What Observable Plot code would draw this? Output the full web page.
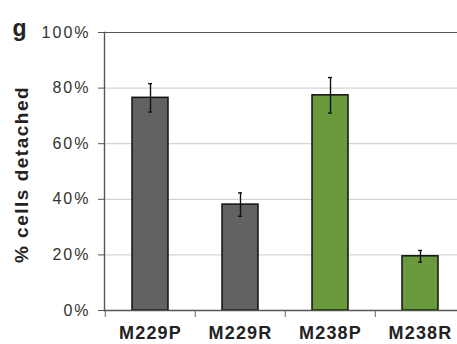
<!DOCTYPE html>
<html>
<head>
<meta charset="utf-8">
<script src="https://cdn.jsdelivr.net/npm/d3@7"></script>
<script src="https://cdn.jsdelivr.net/npm/@observablehq/plot@0.6"></script>
<style>
  html, body { margin: 0; padding: 0; background: #fff; }
  #chart svg { display: block; font-family: "Liberation Sans", Arial, sans-serif; }
  #chart svg g[aria-label="y-axis tick label"] { font-size: 16px; }
  #chart svg g[aria-label="y-axis tick label"] text { letter-spacing: 2px; }
  #chart svg g[aria-label="x-axis tick label"] { font-size: 18px; }
  #chart svg g[aria-label="x-axis tick label"] text { letter-spacing: 1.2px; }
  #chart svg g[aria-label="text"] text { letter-spacing: 1.5px; }
</style>
</head>
<body>
<div id="chart"></div>
<script>
const categories = ["M229P", "M229R", "M238P", "M238R"];
const values = [76.5, 38.1, 77.4, 19.5];
const errors = [5.1, 4.2, 6.4, 2.1];
const groups = ["M229", "M229", "M238", "M238"];
const yTicks = [0, 20, 40, 60, 80, 100];
const yLabel = "% cells detached";
const panelLetter = "g";

const data = categories.map((c, i) => ({
  cat: c, value: values[i], err: errors[i], group: groups[i],
  lo: values[i] - errors[i], hi: values[i] + errors[i]
}));

const xRange = [104.25, 466.25];
const step = (xRange[1] - xRange[0]) / categories.length;

const chart = Plot.plot({
  width: 457,
  height: 344,
  marginLeft: 104,
  marginTop: 32,
  marginBottom: 34,
  marginRight: 0,
  style: { background: "#ffffff", overflow: "hidden" },
  x: { domain: categories, range: xRange, paddingInner: 0.6, paddingOuter: 0.3, align: 0.5 },
  y: { domain: [0, 100], range: [310, 32] },
  color: { domain: ["M229", "M238"], range: ["#626262", "#6a9a3c"] },
  marks: [
    Plot.gridY(yTicks.filter(d => d > 0 && d < 100), { stroke: "#d4d4d4", strokeOpacity: 1, strokeWidth: 1.2 }),
    Plot.ruleY([100], { stroke: "#555", strokeWidth: 1.2 }),
    Plot.barY(data, { x: "cat", y: "value", fill: "group", stroke: "#111", strokeWidth: 1.5 }),
    Plot.ruleX(data, { x: "cat", y1: "lo", y2: "hi", stroke: "#111", strokeWidth: 1.4 }),
    Plot.tickY(data, { x: "cat", y: "hi", stroke: "#111", strokeWidth: 1.4, insetLeft: 16, insetRight: 16 }),
    Plot.tickY(data, { x: "cat", y: "lo", stroke: "#111", strokeWidth: 1.4, insetLeft: 16, insetRight: 16 }),
    Plot.frame({ anchor: "left", stroke: "#555", strokeWidth: 1.4 }),
    Plot.ruleY([0], { stroke: "#555", strokeWidth: 1.4 }),
    Plot.axisX({ tickSize: 7, dx: -step / 2, tickFormat: () => "", stroke: "#666", label: null }),
    Plot.axisY({
      ticks: yTicks, tickFormat: d => d + "%", tickSize: 6, tickPadding: 8,
      stroke: "#555", fontSize: 16, fill: "#333", label: null
    }),
    Plot.axisX({
      tickSize: 0, tickPadding: 16, fontSize: 18, fontWeight: "bold", fill: "#222", label: null
    }),
    Plot.text([yLabel], {
      frameAnchor: "left", dx: -83, dy: 3, rotate: -90, textAnchor: "middle",
      fontSize: 19, fontWeight: "bold", fill: "#222"
    }),
    Plot.text([panelLetter], {
      frameAnchor: "top-left", dx: -92, dy: -13, textAnchor: "start",
      fontSize: 23, fontWeight: "bold", fill: "#222"
    })
  ]
});

document.getElementById("chart").appendChild(chart);
</script>
</body>
</html>
